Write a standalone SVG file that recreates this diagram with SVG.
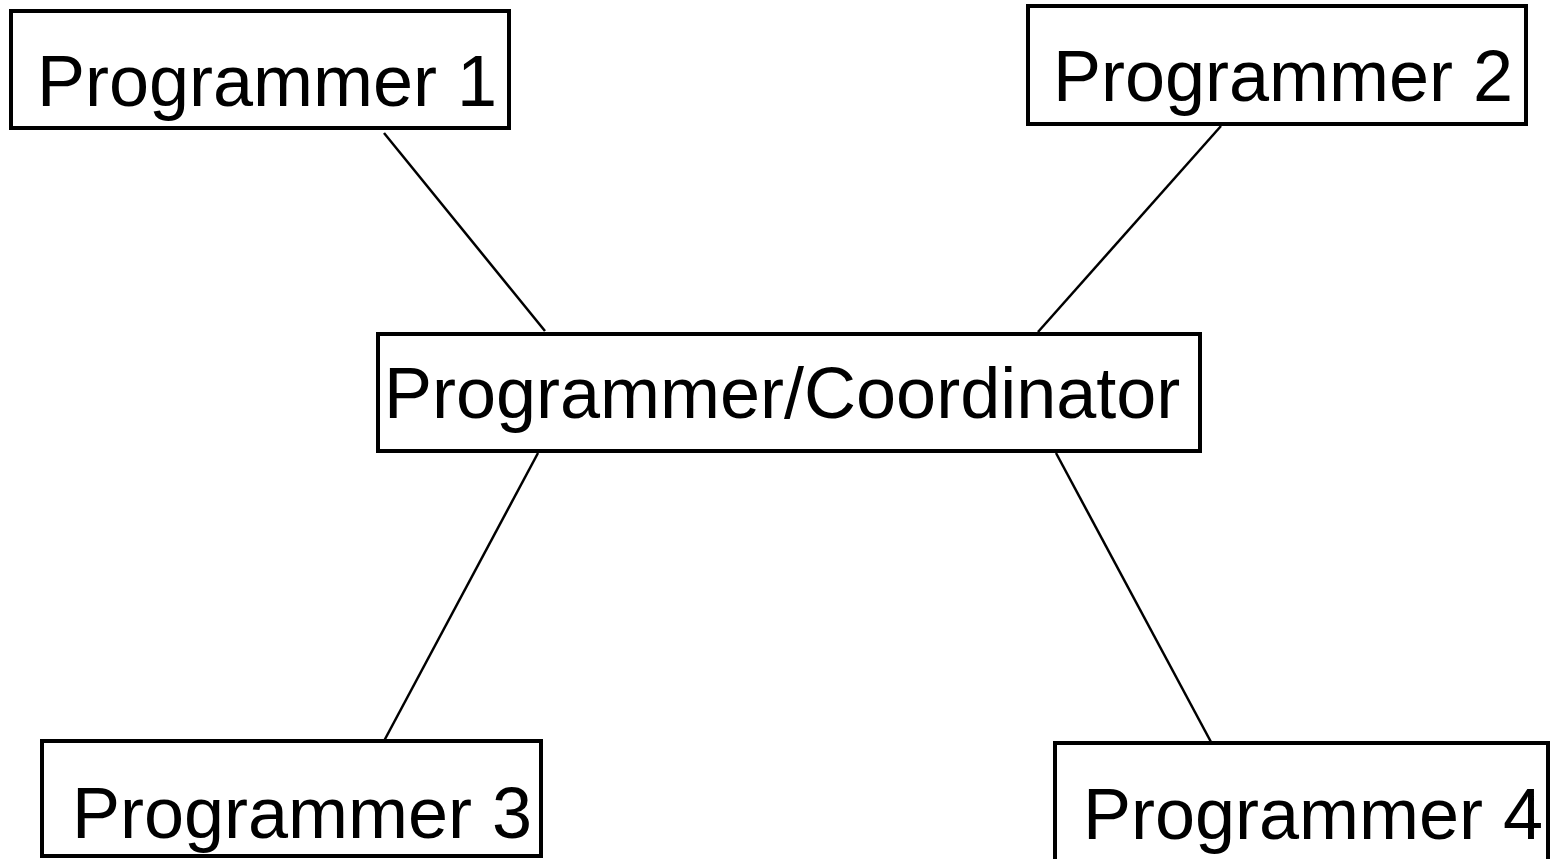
<svg xmlns="http://www.w3.org/2000/svg" width="1551" height="859" viewBox="0 0 1551 859">
<style>
.box{fill:#fff;stroke:#000;stroke-width:4}
.lbl{font-family:"Liberation Sans",Arial,sans-serif;font-size:72px;fill:#000}
.conn{stroke:#000;stroke-width:2.5;fill:none}
</style>
<rect width="1551" height="859" fill="#fff"/>
<g id="connectors">
<line class="conn" x1="384" y1="133" x2="545" y2="331"/>
<line class="conn" x1="1221" y1="126" x2="1038" y2="332"/>
<line class="conn" x1="538" y1="453" x2="384" y2="741"/>
<line class="conn" x1="1056" y1="453" x2="1211" y2="742"/>
</g>
<g id="programmer1">
<rect class="box" x="11" y="11" width="498" height="117"/>
<text class="lbl" x="37" y="106">Programmer 1</text>
</g>
<g id="programmer2">
<rect class="box" x="1028" y="6" width="498" height="118"/>
<text class="lbl" x="1053" y="101">Programmer 2</text>
</g>
<g id="coordinator">
<rect class="box" x="378" y="334" width="822" height="117"/>
<text class="lbl" x="384" y="418">Programmer/Coordinator</text>
</g>
<g id="programmer3">
<rect class="box" x="42" y="741" width="499" height="115"/>
<text class="lbl" x="72" y="838">Programmer 3</text>
</g>
<g id="programmer4">
<rect class="box" x="1055" y="743" width="493" height="120"/>
<text class="lbl" x="1083" y="839">Programmer 4</text>
</g>
</svg>
